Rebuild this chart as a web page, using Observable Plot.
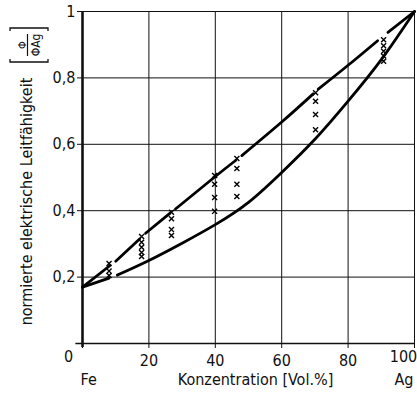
<!DOCTYPE html>
<html>
<head>
<meta charset="utf-8">
<script src="https://cdn.jsdelivr.net/npm/d3@7"></script>
<script src="https://cdn.jsdelivr.net/npm/@observablehq/plot@0.6"></script>
<style>
  body { margin: 0; background: #fff; }
  svg { display: block; }
</style>
</head>
<body>
<div id="chart"></div>
<script>
const xTicks = [0, 20, 40, 60, 80, 100];
const yTicks = [0.2, 0.4, 0.6, 0.8, 1];

// measured conductivity, grouped by Ag concentration (Vol.%)
const concentrations = [8, 17.8, 26.8, 39.8, 46.5, 70.2, 90.7];
const conductivity = [
  [0.241, 0.218, 0.205],
  [0.322, 0.305, 0.29, 0.274, 0.262],
  [0.395, 0.376, 0.343, 0.325],
  [0.506, 0.48, 0.44, 0.398],
  [0.557, 0.527, 0.48, 0.443],
  [0.755, 0.73, 0.69, 0.644],
  [0.915, 0.897, 0.88, 0.866, 0.85]
];

// upper bound, drawn in pieces that leave room for the measurement marks
const upperBound = [
  [[0, 0.17], [8.3, 0.235]],
  [[10, 0.248], [17.2, 0.315]],
  [[19, 0.332], [26.3, 0.392]],
  [[28, 0.405], [40, 0.503], [46.2, 0.552]],
  [[48, 0.566], [60, 0.667], [69.5, 0.752]],
  [[71, 0.766], [80, 0.838], [88.9, 0.912]],
  [[92, 0.937], [100, 1]]
];

// lower bound
const lowerBound = [
  [[0, 0.17], [8, 0.197]],
  [[10.5, 0.206], [20, 0.25], [30, 0.302], [40, 0.358], [50, 0.425],
   [60, 0.515], [70, 0.615], [80, 0.73], [90, 0.855], [100, 1]]
];

const measured = concentrations.flatMap((c, i) => conductivity[i].map(v => ({x: c, y: v})));
const toRows = (segments) => segments.flatMap((s, i) => s.map(([x, y]) => ({x, y, seg: i})));
const upperRows = toRows(upperBound);
const lowerRows = toRows(lowerBound);

const font = "'DejaVu Sans Condensed', 'DejaVu Sans', sans-serif";
const fmt = d => d === 1 ? "1" : d3.format(".1f")(d).replace(".", ",");

const chart = Plot.plot({
  width: 417,
  height: 396,
  marginLeft: 82,
  marginRight: 3,
  marginTop: 11,
  marginBottom: 53,
  x: {domain: [0, 100], label: null},
  y: {domain: [0, 1], label: null},
  style: {fontFamily: font, fontSize: "16px", color: "#111", background: "#fff"},
  marks: [
    // grid
    Plot.ruleX(xTicks.filter(d => d > 0), {x: d => d, y1: 0, y2: 1, stroke: "#111", strokeWidth: 1}),
    Plot.ruleY(yTicks, {y: d => d, x1: 0, x2: 100, stroke: "#111", strokeWidth: 1}),
    // axes lines
    Plot.ruleY([0], {x1: -2, x2: 100, stroke: "#111", strokeWidth: 1.6}),
    Plot.ruleX([0], {y1: -0.012, y2: 1, stroke: "#111", strokeWidth: 2.6}),
    Plot.axisX({ticks: xTicks, tickSize: 5, tickPadding: 6, label: null, tickFormat: d => (d === 0 || d === 100) ? "" : String(d), stroke: "#111"}),
    Plot.axisY({ticks: yTicks, tickSize: 5, tickPadding: 2, label: null, tickFormat: fmt, stroke: "#111"}),
    Plot.text([0], {x: d => d, frameAnchor: "bottom", dy: 18, dx: -14, text: d => String(d), fill: "#111"}),
    Plot.text([100], {x: d => d, frameAnchor: "bottom", dy: 18, dx: -11, text: d => String(d), fill: "#111"}),
    // axis titles
    Plot.text(["Fe"], {x: 0, frameAnchor: "bottom", dy: 41, dx: -2, textAnchor: "start", text: d => d, fill: "#111"}),
    Plot.text(["Konzentration [Vol.%]"], {x: 50, frameAnchor: "bottom", dy: 41, dx: 7, text: d => d, fill: "#111"}),
    Plot.text(["Ag"], {x: 100, frameAnchor: "bottom", dy: 41, dx: -1, textAnchor: "end", text: d => d, fill: "#111"}),
    Plot.text(["normierte elektrische Leitfähigkeit"], {frameAnchor: "left", textAnchor: "middle", dx: -56, dy: 24, rotate: -90, text: d => d, fill: "#111"}),
    // bounds
    Plot.line(upperRows, {x: "x", y: "y", z: "seg", curve: "natural", stroke: "#000", strokeWidth: 2.8}),
    Plot.line(lowerRows, {x: "x", y: "y", z: "seg", curve: "natural", stroke: "#000", strokeWidth: 2.8}),
    // measurements
    Plot.dot(measured, {x: "x", y: "y", symbol: "times", r: 2.4, stroke: "#000", strokeWidth: 1.4})
  ]
});

// unit of the ordinate: [Φ / Φ_Ag], written along the axis title
const svg = d3.select(chart);
const unit = svg.append("g")
  .attr("transform", "translate(29,45) rotate(-90)")
  .attr("fill", "#111")
  .attr("stroke", "none")
  .style("font-family", font);
unit.append("text").attr("x", 0).attr("y", -7).attr("text-anchor", "middle")
  .attr("dominant-baseline", "central").style("font-size", "11px").text("Φ");
unit.append("line").attr("x1", -11).attr("x2", 11).attr("y1", -1.5).attr("y2", -1.5)
  .attr("stroke", "#111").attr("stroke-width", 1.2);
unit.append("text").attr("x", 0).attr("y", 7).attr("text-anchor", "middle")
  .attr("dominant-baseline", "central").style("font-size", "12px").text("ΦAg");
const bracket = (u, dir) => `M${u + 3 * dir},-19H${u}V19H${u + 3 * dir}`;
unit.append("path").attr("d", bracket(-17, 1)).attr("fill", "none").attr("stroke", "#111").attr("stroke-width", 1.3);
unit.append("path").attr("d", bracket(17, -1)).attr("fill", "none").attr("stroke", "#111").attr("stroke-width", 1.3);

document.getElementById("chart").append(chart);
</script>
</body>
</html>
